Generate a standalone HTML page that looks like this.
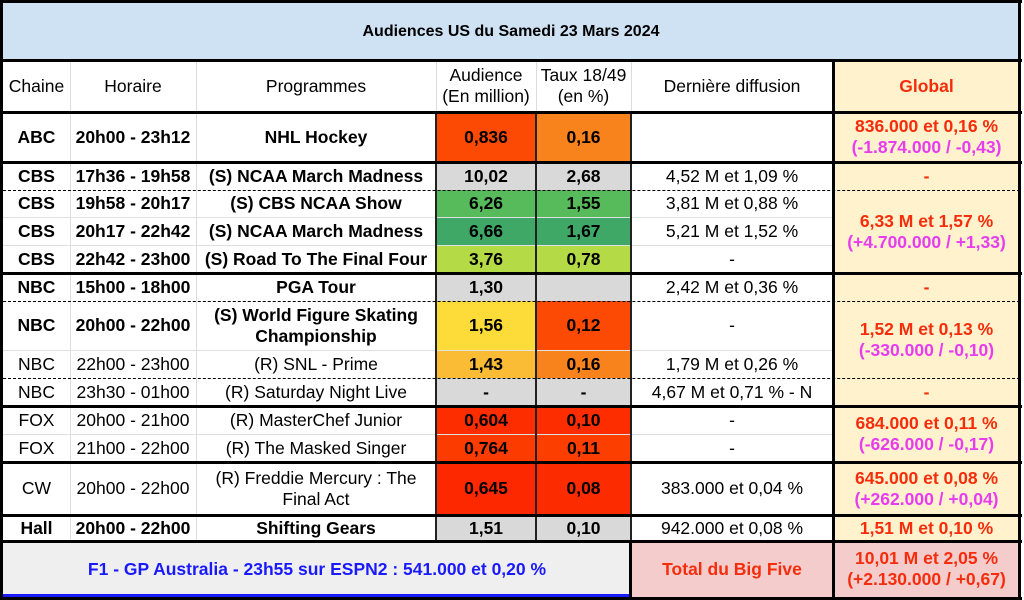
<!DOCTYPE html>
<html><head><meta charset="utf-8"><style>
*{margin:0;padding:0;box-sizing:border-box}
body{width:1024px;height:600px;background:#fff;position:relative;overflow:hidden;font-family:"Liberation Sans",Arial,sans-serif;font-size:17.5px;color:#000}
.c{position:absolute;display:flex;align-items:center;justify-content:center;text-align:center;line-height:21px;white-space:nowrap}
.b{font-weight:bold}
.l{position:absolute}
.r{color:#f62d0c;font-weight:bold}
.m{color:#e83cf0;font-weight:bold}
</style></head><body>
<div class="c b" style="left:3px;top:3px;width:1016px;height:57px;background:#cfe2f3;font-size:16px">Audiences US du Samedi 23 Mars 2024</div>
<div class="c" style="left:3px;top:60px;width:67px;height:52px">Chaine</div>
<div class="c" style="left:70px;top:60px;width:126px;height:52px">Horaire</div>
<div class="c" style="left:196px;top:60px;width:240px;height:52px">Programmes</div>
<div class="c" style="left:436px;top:60px;width:100px;height:52px">Audience<br>(En million)</div>
<div class="c" style="left:536px;top:60px;width:95px;height:52px">Taux 18/49<br>(en %)</div>
<div class="c" style="left:631px;top:60px;width:202px;height:52px">Dernière diffusion</div>
<div class="c r" style="left:833px;top:60px;width:187px;height:52px;background:#fff2cc">Global</div>

<div class="c b" style="left:3px;top:112px;width:67px;height:50px">ABC</div>
<div class="c b" style="left:70px;top:112px;width:126px;height:50px">20h00 - 23h12</div>
<div class="c b" style="left:196px;top:112px;width:240px;height:50px">NHL Hockey</div>
<div class="c b" style="left:436px;top:112px;width:100px;height:50px;background:#fc4a05">0,836</div>
<div class="c b" style="left:536px;top:112px;width:95px;height:50px;background:#f8821c">0,16</div>

<div class="c b" style="left:3px;top:162px;width:67px;height:28px">CBS</div>
<div class="c b" style="left:70px;top:162px;width:126px;height:28px">17h36 - 19h58</div>
<div class="c b" style="left:196px;top:162px;width:240px;height:28px">(S) NCAA March Madness</div>
<div class="c b" style="left:436px;top:162px;width:100px;height:28px;background:#d9d9d9">10,02</div>
<div class="c b" style="left:536px;top:162px;width:95px;height:28px;background:#d9d9d9">2,68</div>
<div class="c" style="left:631px;top:162px;width:202px;height:28px">4,52 M et 1,09 %</div>

<div class="c b" style="left:3px;top:190px;width:67px;height:27px">CBS</div>
<div class="c b" style="left:70px;top:190px;width:126px;height:27px">19h58 - 20h17</div>
<div class="c b" style="left:196px;top:190px;width:240px;height:27px">(S) CBS NCAA Show</div>
<div class="c b" style="left:436px;top:190px;width:100px;height:27px;background:#57bb5b">6,26</div>
<div class="c b" style="left:536px;top:190px;width:95px;height:27px;background:#57bb5b">1,55</div>
<div class="c" style="left:631px;top:190px;width:202px;height:27px">3,81 M et 0,88 %</div>

<div class="c b" style="left:3px;top:217px;width:67px;height:28px">CBS</div>
<div class="c b" style="left:70px;top:217px;width:126px;height:28px">20h17 - 22h42</div>
<div class="c b" style="left:196px;top:217px;width:240px;height:28px">(S) NCAA March Madness</div>
<div class="c b" style="left:436px;top:217px;width:100px;height:28px;background:#40a866">6,66</div>
<div class="c b" style="left:536px;top:217px;width:95px;height:28px;background:#40a866">1,67</div>
<div class="c" style="left:631px;top:217px;width:202px;height:28px">5,21 M et 1,52 %</div>

<div class="c b" style="left:3px;top:245px;width:67px;height:28px">CBS</div>
<div class="c b" style="left:70px;top:245px;width:126px;height:28px">22h42 - 23h00</div>
<div class="c b" style="left:196px;top:245px;width:240px;height:28px">(S) Road To The Final Four</div>
<div class="c b" style="left:436px;top:245px;width:100px;height:28px;background:#b4da45">3,76</div>
<div class="c b" style="left:536px;top:245px;width:95px;height:28px;background:#b4da45">0,78</div>
<div class="c" style="left:631px;top:245px;width:202px;height:28px">-</div>

<div class="c b" style="left:3px;top:273px;width:67px;height:28px">NBC</div>
<div class="c b" style="left:70px;top:273px;width:126px;height:28px">15h00 - 18h00</div>
<div class="c b" style="left:196px;top:273px;width:240px;height:28px">PGA Tour</div>
<div class="c b" style="left:436px;top:273px;width:100px;height:28px;background:#d9d9d9">1,30</div>
<div class="c b" style="left:536px;top:273px;width:95px;height:28px;background:#d9d9d9"></div>
<div class="c" style="left:631px;top:273px;width:202px;height:28px">2,42 M et 0,36 %</div>

<div class="c b" style="left:3px;top:301px;width:67px;height:49px">NBC</div>
<div class="c b" style="left:70px;top:301px;width:126px;height:49px">20h00 - 22h00</div>
<div class="c b" style="left:196px;top:301px;width:240px;height:49px">(S) World Figure Skating<br>Championship</div>
<div class="c b" style="left:436px;top:301px;width:100px;height:49px;background:#fddc3a">1,56</div>
<div class="c b" style="left:536px;top:301px;width:95px;height:49px;background:#fc4a05">0,12</div>
<div class="c" style="left:631px;top:301px;width:202px;height:49px">-</div>

<div class="c" style="left:3px;top:350px;width:67px;height:28px">NBC</div>
<div class="c" style="left:70px;top:350px;width:126px;height:28px">22h00 - 23h00</div>
<div class="c" style="left:196px;top:350px;width:240px;height:28px">(R) SNL - Prime</div>
<div class="c b" style="left:436px;top:350px;width:100px;height:28px;background:#fbbc35">1,43</div>
<div class="c b" style="left:536px;top:350px;width:95px;height:28px;background:#f8821c">0,16</div>
<div class="c" style="left:631px;top:350px;width:202px;height:28px">1,79 M et 0,26 %</div>

<div class="c" style="left:3px;top:378px;width:67px;height:28px">NBC</div>
<div class="c" style="left:70px;top:378px;width:126px;height:28px">23h30 - 01h00</div>
<div class="c" style="left:196px;top:378px;width:240px;height:28px">(R) Saturday Night Live</div>
<div class="c b" style="left:436px;top:378px;width:100px;height:28px;background:#d9d9d9">-</div>
<div class="c b" style="left:536px;top:378px;width:95px;height:28px;background:#d9d9d9">-</div>
<div class="c" style="left:631px;top:378px;width:202px;height:28px">4,67 M et 0,71 % - N</div>

<div class="c" style="left:3px;top:406px;width:67px;height:28px">FOX</div>
<div class="c" style="left:70px;top:406px;width:126px;height:28px">20h00 - 21h00</div>
<div class="c" style="left:196px;top:406px;width:240px;height:28px">(R) MasterChef Junior</div>
<div class="c b" style="left:436px;top:406px;width:100px;height:28px;background:#fd2d00">0,604</div>
<div class="c b" style="left:536px;top:406px;width:95px;height:28px;background:#fd2d00">0,10</div>
<div class="c" style="left:631px;top:406px;width:202px;height:28px">-</div>

<div class="c" style="left:3px;top:434px;width:67px;height:28px">FOX</div>
<div class="c" style="left:70px;top:434px;width:126px;height:28px">21h00 - 22h00</div>
<div class="c" style="left:196px;top:434px;width:240px;height:28px">(R) The Masked Singer</div>
<div class="c b" style="left:436px;top:434px;width:100px;height:28px;background:#fc3b00">0,764</div>
<div class="c b" style="left:536px;top:434px;width:95px;height:28px;background:#fc3e00">0,11</div>
<div class="c" style="left:631px;top:434px;width:202px;height:28px">-</div>

<div class="c" style="left:3px;top:462px;width:67px;height:53px">CW</div>
<div class="c" style="left:70px;top:462px;width:126px;height:53px">20h00 - 22h00</div>
<div class="c" style="left:196px;top:462px;width:240px;height:53px">(R) Freddie Mercury : The<br>Final Act</div>
<div class="c b" style="left:436px;top:462px;width:100px;height:53px;background:#fd2700">0,645</div>
<div class="c b" style="left:536px;top:462px;width:95px;height:53px;background:#fd2b00">0,08</div>
<div class="c" style="left:631px;top:462px;width:202px;height:53px">383.000 et 0,04 %</div>

<div class="c b" style="left:3px;top:515px;width:67px;height:26px">Hall</div>
<div class="c b" style="left:70px;top:515px;width:126px;height:26px">20h00 - 22h00</div>
<div class="c b" style="left:196px;top:515px;width:240px;height:26px">Shifting Gears</div>
<div class="c b" style="left:436px;top:515px;width:100px;height:26px;background:#d9d9d9">1,51</div>
<div class="c b" style="left:536px;top:515px;width:95px;height:26px;background:#d9d9d9">0,10</div>
<div class="c" style="left:631px;top:515px;width:202px;height:26px">942.000 et 0,08 %</div>

<div class="c" style="left:833px;top:112px;width:187px;height:50px;background:#fff2cc;flex-direction:column"><span class="r">836.000 et 0,16 %</span><span class="m">(-1.874.000 / -0,43)</span></div>
<div class="c r" style="left:833px;top:162px;width:187px;height:28px;background:#fff2cc">-</div>
<div class="c" style="left:833px;top:190px;width:187px;height:83px;background:#fff2cc;flex-direction:column"><span class="r">6,33 M et 1,57 %</span><span class="m">(+4.700.000 / +1,33)</span></div>
<div class="c r" style="left:833px;top:273px;width:187px;height:28px;background:#fff2cc">-</div>
<div class="c" style="left:833px;top:301px;width:187px;height:77px;background:#fff2cc;flex-direction:column"><span class="r">1,52 M et 0,13 %</span><span class="m">(-330.000 / -0,10)</span></div>
<div class="c r" style="left:833px;top:378px;width:187px;height:28px;background:#fff2cc">-</div>
<div class="c" style="left:833px;top:406px;width:187px;height:56px;background:#fff2cc;flex-direction:column"><span class="r">684.000 et 0,11 %</span><span class="m">(-626.000 / -0,17)</span></div>
<div class="c" style="left:833px;top:462px;width:187px;height:53px;background:#fff2cc;flex-direction:column"><span class="r">645.000 et 0,08 %</span><span class="m">(+262.000 / +0,04)</span></div>
<div class="c r" style="left:833px;top:515px;width:187px;height:26px;background:#fff2cc">1,51 M et 0,10 %</div>

<div class="c b" style="left:3px;top:541px;width:628px;height:56px;background:#efefef;color:#1a1aff">F1 - GP Australia - 23h55 sur ESPN2 : 541.000 et 0,20 %</div>
<div class="l" style="left:3px;top:594px;width:626px;height:3px;background:#1a1aff"></div>
<div class="c r" style="left:631px;top:541px;width:202px;height:56px;background:#f4cccc">Total du Big Five</div>
<div class="c" style="left:833px;top:541px;width:187px;height:56px;background:#f4cccc;flex-direction:column"><span class="r">10,01 M et 2,05 %</span><span class="r">(+2.130.000 / +0,67)</span></div>

<div class="l" style="left:3px;top:217px;width:830px;height:1px;background:#e0e0e0"></div>
<div class="l" style="left:3px;top:245px;width:830px;height:1px;background:#e0e0e0"></div>
<div class="l" style="left:3px;top:350px;width:830px;height:1px;background:#e0e0e0"></div>
<div class="l" style="left:3px;top:434px;width:830px;height:1px;background:#e0e0e0"></div>
<div class="l" style="left:70px;top:60px;width:1px;height:481px;background:#dcdcdc"></div>
<div class="l" style="left:196px;top:60px;width:1px;height:481px;background:#dcdcdc"></div>
<div class="l" style="left:436px;top:60px;width:1px;height:52px;background:#dcdcdc"></div>
<div class="l" style="left:536px;top:60px;width:1px;height:52px;background:#dcdcdc"></div>
<div class="l" style="left:631px;top:60px;width:1px;height:52px;background:#dcdcdc"></div>
<div class="l" style="left:435px;top:112px;width:2px;height:429px;background:#222"></div>
<div class="l" style="left:535px;top:112px;width:2px;height:429px;background:#222"></div>
<div class="l" style="left:630px;top:112px;width:2px;height:429px;background:#222"></div>
<div class="l" style="left:629px;top:541px;width:3px;height:59px;background:#000"></div>
<div class="l" style="left:832px;top:60px;width:3px;height:540px;background:#000"></div>
<div class="l" style="left:3px;top:190px;width:1017px;height:0;border-top:1px dashed #000"></div>
<div class="l" style="left:3px;top:301px;width:1017px;height:0;border-top:1px dashed #000"></div>
<div class="l" style="left:3px;top:378px;width:1017px;height:0;border-top:1px dashed #000"></div>
<div class="l" style="left:0;top:0;width:1022px;height:3px;background:#000"></div>
<div class="l" style="left:0;top:59px;width:1022px;height:3px;background:#000"></div>
<div class="l" style="left:0;top:111px;width:1022px;height:3px;background:#000"></div>
<div class="l" style="left:0;top:161px;width:1022px;height:3px;background:#000"></div>
<div class="l" style="left:0;top:272px;width:1022px;height:3px;background:#000"></div>
<div class="l" style="left:0;top:405px;width:1022px;height:3px;background:#000"></div>
<div class="l" style="left:0;top:461px;width:1022px;height:3px;background:#000"></div>
<div class="l" style="left:0;top:514px;width:1022px;height:3px;background:#000"></div>
<div class="l" style="left:0;top:540px;width:1022px;height:3px;background:#000"></div>
<div class="l" style="left:0;top:597px;width:1022px;height:3px;background:#000"></div>
<div class="l" style="left:0;top:0;width:3px;height:600px;background:#000"></div>
<div class="l" style="left:1018px;top:0;width:3px;height:600px;background:#000"></div>
</body></html>
